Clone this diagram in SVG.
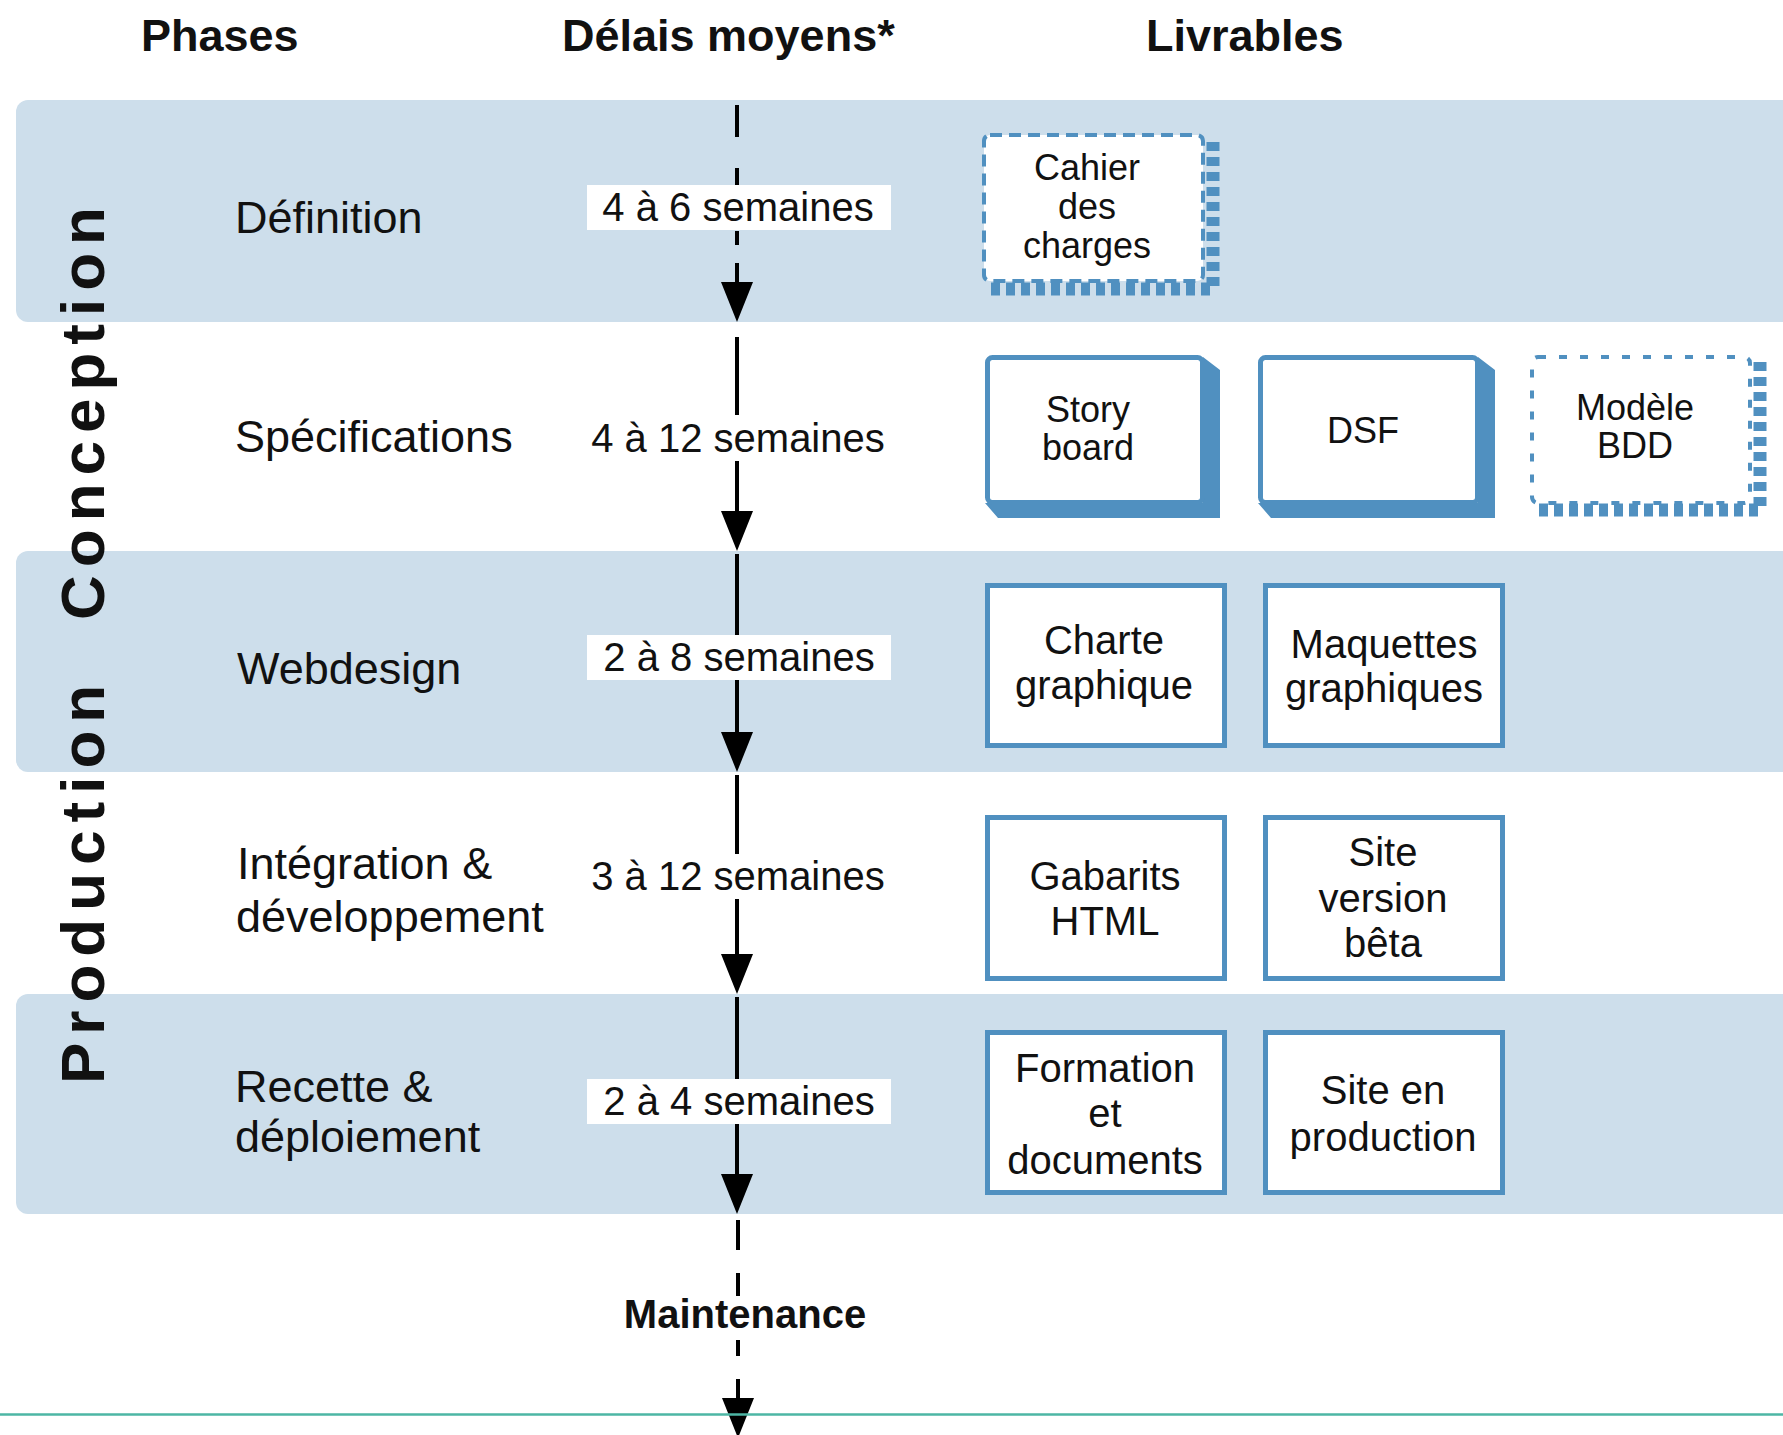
<svg xmlns="http://www.w3.org/2000/svg" width="1783" height="1435" viewBox="0 0 1783 1435">
<defs>
<marker id="ah" viewBox="0 0 40 32" refX="20" refY="16" markerWidth="40" markerHeight="32" markerUnits="userSpaceOnUse" orient="auto">
<path d="M0,0 L40,16 L0,32 z" fill="#000"/>
</marker>
</defs>
<style>
text { font-family: "Liberation Sans", Arial, Helvetica, sans-serif; fill: #111; }
.band { fill: #cddeeb; }
.hdr { font-size: 45px; font-weight: bold; }
.phase { font-size: 45px; }
.dur { font-size: 40px; text-anchor: middle; }
.lblbg { fill: #fff; }
.box { fill: #fff; stroke: #5090c0; stroke-width: 5; }
.boxd1 { fill: #fff; stroke: #5090c0; stroke-width: 4; stroke-dasharray: 12 7; }
.boxd2 { fill: #fff; stroke: #5090c0; stroke-width: 4; stroke-dasharray: 8 13; }
.ext { fill: #5090c0; }
.extd { fill: none; stroke: #5090c0; stroke-width: 13; stroke-dasharray: 9 6; }
.d36 { font-size: 36px; text-anchor: middle; }
.d40 { font-size: 40px; text-anchor: middle; }
.tl { fill: none; stroke: #000; stroke-width: 4; marker-end: url(#ah); }
.vert { font-size: 62px; font-weight: bold; letter-spacing: 8px; }
.maint { font-size: 40px; font-weight: bold; text-anchor: middle; }
</style>
<rect width="1783" height="1435" fill="#fff"/>
<g id="bands">
<rect class="band" x="16" y="100" width="1800" height="222" rx="12"/>
<rect class="band" x="16" y="551" width="1800" height="221" rx="12"/>
<rect class="band" x="16" y="994" width="1800" height="220" rx="12"/>
</g>
<g id="headers">
<text class="hdr" x="141" y="51">Phases</text>
<text class="hdr" x="562" y="51">Délais moyens*</text>
<text class="hdr" x="1146" y="51">Livrables</text>
</g>
<g id="stages">
<text class="vert" transform="translate(104,1084) rotate(-90)">Production</text>
<text class="vert" transform="translate(104,620) rotate(-90)">Conception</text>
</g>
<g id="phases">
<g id="ph-definition"><text class="phase" x="235" y="233">Définition</text></g>
<g id="ph-specifications"><text class="phase" x="235" y="452">Spécifications</text></g>
<g id="ph-webdesign"><text class="phase" x="237" y="684">Webdesign</text></g>
<g id="ph-integration"><text class="phase" x="237" y="879">Intégration &amp;</text><text class="phase" x="236" y="932">développement</text></g>
<g id="ph-recette"><text class="phase" x="235" y="1102">Recette &amp;</text><text class="phase" x="235" y="1152">déploiement</text></g>
</g>
<g id="connectors">
<path class="tl" d="M737,105 V137 M737,168 V185 M737,231 V245 M737,263 V302"/>
<path class="tl" d="M737,337 V531"/>
<path class="tl" d="M737,554 V752"/>
<path class="tl" d="M737,775 V974"/>
<path class="tl" d="M737,997 V1194"/>
<path class="tl" d="M738,1220 V1250 M738,1273 V1296 M738,1340 V1356 M738,1379 V1418"/>
</g>
<g id="durations">
<g id="dur-1"><rect class="lblbg" x="587" y="185" width="304" height="45"/><text class="dur" x="738" y="221">4 à 6 semaines</text></g>
<g id="dur-2"><rect class="lblbg" x="587" y="415" width="304" height="46"/><text class="dur" x="738" y="452">4 à 12 semaines</text></g>
<g id="dur-3"><rect class="lblbg" x="587" y="635" width="304" height="45"/><text class="dur" x="739" y="671">2 à 8 semaines</text></g>
<g id="dur-4"><rect class="lblbg" x="587" y="854" width="304" height="45"/><text class="dur" x="738" y="890">3 à 12 semaines</text></g>
<g id="dur-5"><rect class="lblbg" x="587" y="1079" width="304" height="45"/><text class="dur" x="739" y="1115">2 à 4 semaines</text></g>
<g id="maintenance"><text class="maint" x="745" y="1328">Maintenance</text></g>
</g>
<g id="deliverables">
<g id="cahier">
<path class="extd" d="M1213,142 V289 H990"/>
<rect class="boxd1" x="984" y="135" width="219" height="146" rx="6"/>
<text class="d36" x="1087" y="180">Cahier</text>
<text class="d36" x="1087" y="219">des</text>
<text class="d36" x="1087" y="258">charges</text>
</g>
<g id="storyboard">
<path class="ext" d="M1203,357 L1220,370 L1220,518 L998,518 L985,503 L1203,503 z"/>
<rect class="box" x="987.5" y="357.5" width="215" height="145" rx="5"/>
<text class="d36" x="1088" y="422">Story</text>
<text class="d36" x="1088" y="460">board</text>
</g>
<g id="dsf">
<path class="ext" d="M1478,357 L1495,370 L1495,518 L1271,518 L1258,503 L1478,503 z"/>
<rect class="box" x="1260.5" y="357.5" width="217" height="145" rx="5"/>
<text class="d36" x="1363" y="443">DSF</text>
</g>
<g id="modele">
<path class="extd" d="M1760,362 V510 H1538" stroke-width="11"/>
<rect class="boxd2" x="1532" y="357" width="218" height="146" rx="6"/>
<text class="d36" x="1635" y="420">Modèle</text>
<text class="d36" x="1635" y="458">BDD</text>
</g>
<g id="charte">
<rect class="box" x="987.5" y="585.5" width="237" height="160"/>
<text class="d40" x="1104" y="654">Charte</text>
<text class="d40" x="1104" y="699">graphique</text>
</g>
<g id="maquettes">
<rect class="box" x="1265.5" y="585.5" width="237" height="160"/>
<text class="d40" x="1384" y="658">Maquettes</text>
<text class="d40" x="1384" y="702">graphiques</text>
</g>
<g id="gabarits">
<rect class="box" x="987.5" y="817.5" width="237" height="161"/>
<text class="d40" x="1105" y="890">Gabarits</text>
<text class="d40" x="1105" y="935">HTML</text>
</g>
<g id="beta">
<rect class="box" x="1265.5" y="817.5" width="237" height="161"/>
<text class="d40" x="1383" y="866">Site</text>
<text class="d40" x="1383" y="912">version</text>
<text class="d40" x="1383" y="957">bêta</text>
</g>
<g id="formation">
<rect class="box" x="987.5" y="1032.5" width="237" height="160"/>
<text class="d40" x="1105" y="1082">Formation</text>
<text class="d40" x="1105" y="1127">et</text>
<text class="d40" x="1105" y="1174">documents</text>
</g>
<g id="production">
<rect class="box" x="1265.5" y="1032.5" width="237" height="160"/>
<text class="d40" x="1383" y="1104">Site en</text>
<text class="d40" x="1383" y="1151">production</text>
</g>
</g>
<line x1="0" y1="1414.5" x2="1783" y2="1414.5" stroke="#4db6a4" stroke-width="2.5"/>
</svg>
